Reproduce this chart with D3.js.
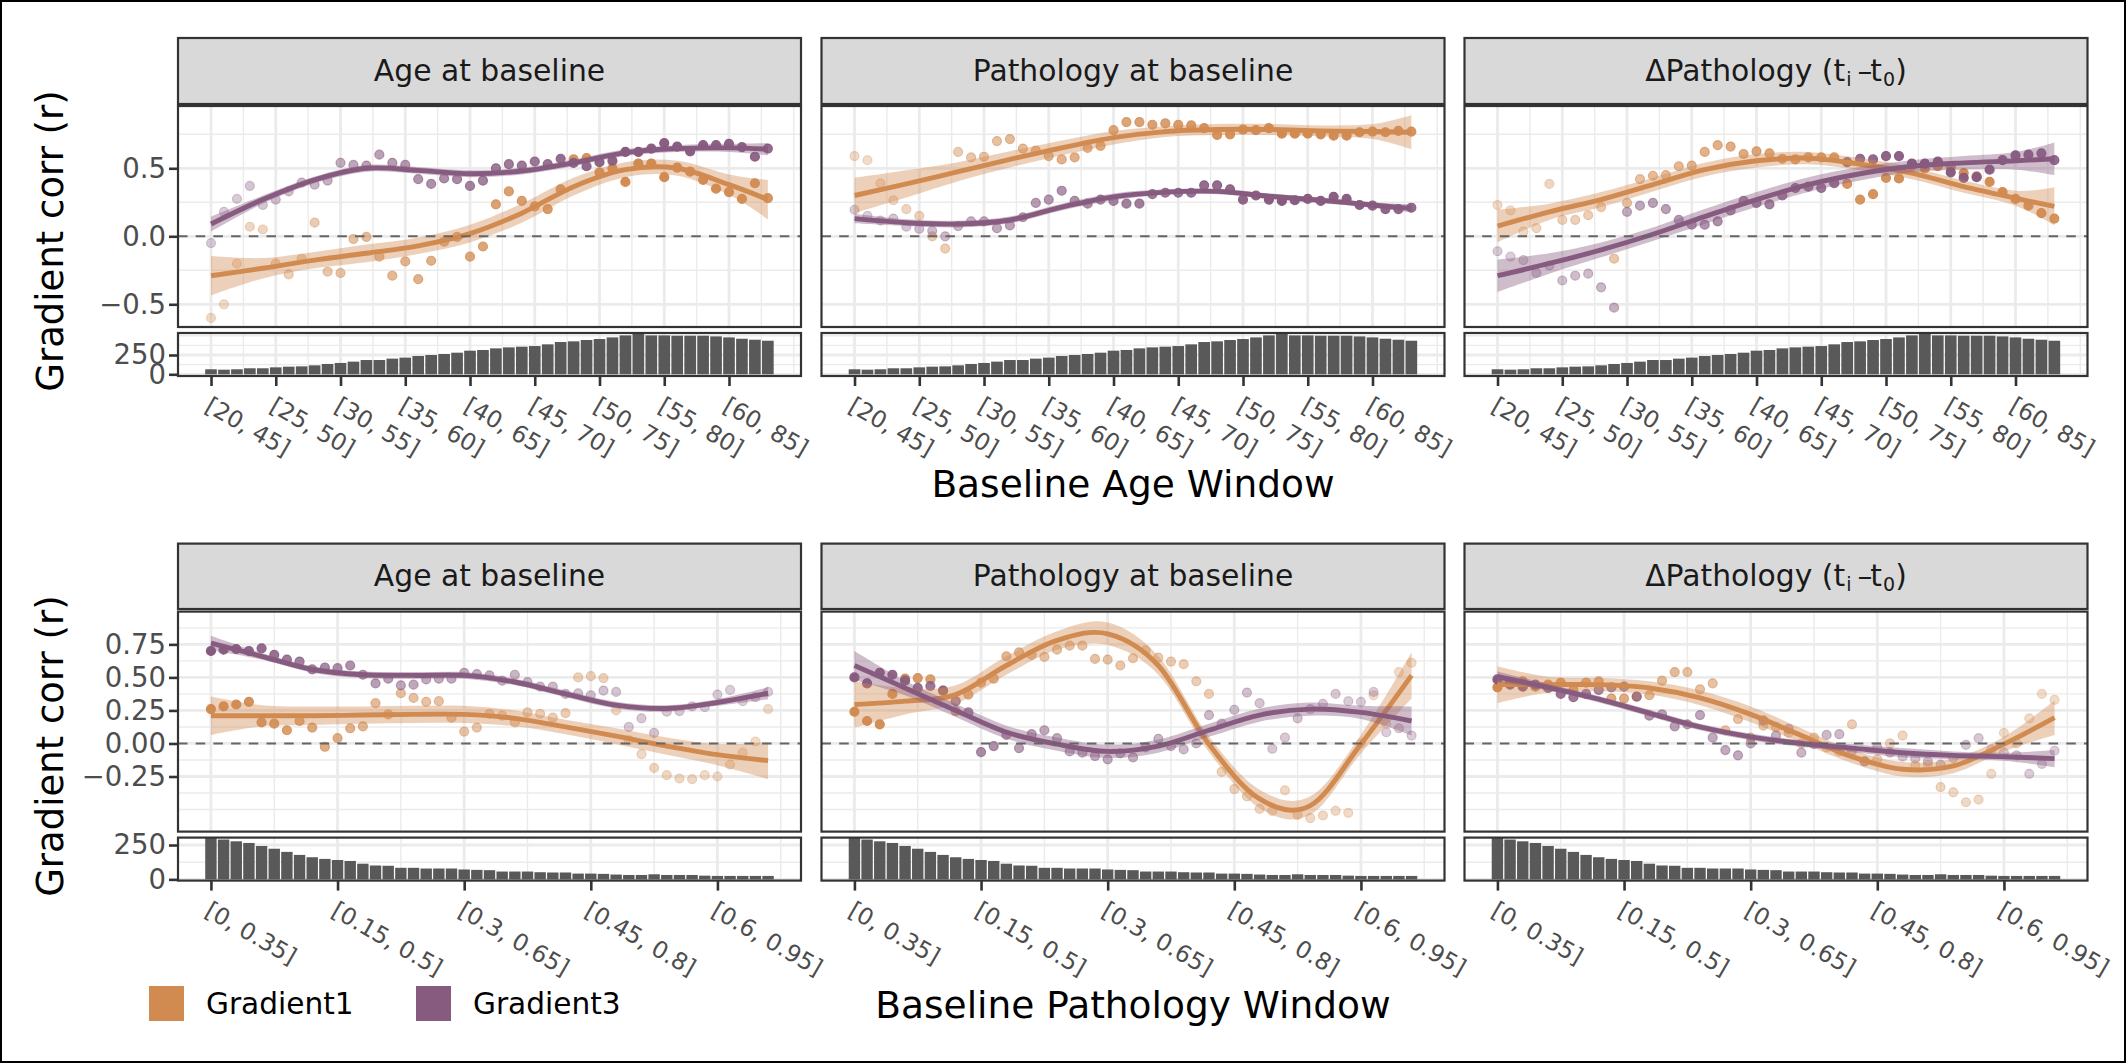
<!DOCTYPE html>
<html>
<head>
<meta charset="utf-8">
<script src="https://cdnjs.cloudflare.com/ajax/libs/d3/7.8.5/d3.min.js"></script>
<style>
  body { margin: 0; background: #fff; font-family: "DejaVu Sans", sans-serif; }
</style>
</head>
<body>
<div id="chart"></div>
<script>
// ---- data ----
const ageWindows = ["[20, 45]", "[25, 50]", "[30, 55]", "[35, 60]", "[40, 65]", "[45, 70]", "[50, 75]", "[55, 80]", "[60, 85]"];
const pathWindows = ["[0, 0.35]", "[0.15, 0.5]", "[0.3, 0.65]", "[0.45, 0.8]", "[0.6, 0.95]"];
const covariates = ["Age at baseline", "Pathology at baseline", "delta"];
const gradients = ["Gradient1", "Gradient3"];

// window sizes
const ageCounts = [65,60,65,78,78,90,99,103,116,134,147,164,185,185,203,216,237,250,263,280,306,315,336,349,358,366,388,418,427,444,457,478,504,522,504,504,500,500,500,491,478,461,448,435];
const pathCounts = [304,290,277,265,243,223,200,178,161,149,141,134,114,101,99,84,84,79,79,79,72,69,67,57,57,57,52,50,50,42,42,40,35,32,32,37,32,32,32,27,25,25,25,25,25];

// knots where the smooth curves were read
const ageKnots = [0,4,8,12,16,20,24,28,32,36,40,43];
const pathKnots = [0,4,8,12,16,20,24,28,32,36,40,44];

// age window, age at baseline
const aaG1 = [-.60,-.50,-.20,.07,.05,-.20,-.28,-.165,.10,-.26,-.27,-.02,-.005,-.15,-.29,-.185,-.315,-.18,-.04,-.005,-.15,-.075,.235,.33,.26,.22,.20,.345,.565,.575,.47,.50,.40,.535,.535,.435,.505,.475,.415,.35,.325,.275,.39,.28];
const aaG3 = [-.05,.18,.275,.37,.23,.27,.33,.395,.38,.41,.54,.525,.52,.60,.54,.525,.42,.385,.425,.42,.37,.41,.50,.53,.52,.55,.53,.57,.54,.515,.545,.555,.62,.62,.645,.685,.66,.625,.67,.67,.68,.655,.585,.645];
const aaG1Fit = [-.29,-.235,-.175,-.125,-.07,.02,.17,.365,.49,.50,.38,.27];
const aaG1Se = [.145,.075,.06,.065,.06,.065,.07,.065,.055,.055,.075,.145];
const aaG3Fit = [.09,.27,.415,.50,.485,.46,.48,.54,.615,.645,.65,.64];
const aaG3Se = [.055,.03,.025,.025,.025,.025,.025,.025,.025,.025,.03,.045];

// age window, pathology at baseline
const apG1 = [.59,.56,.39,.265,.20,.15,0,-.09,.62,.58,.585,.70,.715,.645,.63,.59,.565,.58,.65,.665,.78,.84,.84,.82,.83,.82,.815,.795,.745,.75,.785,.78,.795,.755,.755,.755,.75,.74,.74,.765,.77,.765,.775,.77];
const apG3 = [.195,.15,.115,.13,.07,.055,.04,0,.075,.11,.11,.06,.08,.14,.245,.27,.335,.26,.24,.27,.26,.24,.24,.31,.32,.32,.32,.375,.375,.345,.27,.30,.27,.26,.265,.275,.26,.29,.275,.23,.225,.20,.20,.21];
const apG1Fit = [.30,.385,.475,.565,.65,.725,.77,.785,.785,.775,.77,.765];
const apG1Se = [.13,.10,.07,.06,.055,.05,.04,.04,.04,.04,.055,.125];
const apG3Fit = [.13,.10,.09,.12,.215,.29,.325,.33,.295,.265,.23,.205];
const apG3Se = [.035,.025,.025,.025,.025,.025,.02,.02,.02,.02,.02,.03];

// age window, delta pathology
const adG1 = [.23,.19,.035,.06,.385,.12,.12,.155,.215,-.165,.245,.42,.445,.45,.515,.52,.62,.67,.66,.605,.625,.61,.57,.565,.58,.58,.58,.385,.27,.31,.43,.425,.52,.50,.515,.51,.465,.44,.40,.325,.275,.225,.17,.13];
const adG3 = [-.11,-.15,-.175,-.27,-.215,-.325,-.29,-.275,-.375,-.525,.18,.225,.245,.20,.12,.085,.085,.11,.19,.26,.245,.235,.30,.355,.365,.355,.39,.545,.57,.565,.59,.59,.535,.535,.55,.47,.43,.435,.49,.56,.595,.60,.61,.56];
const adG1Fit = [.075,.18,.27,.38,.49,.555,.575,.53,.465,.365,.28,.22];
const adG1Se = [.12,.06,.055,.05,.05,.05,.045,.045,.045,.045,.055,.14];
const adG3Fit = [-.29,-.20,-.10,.015,.145,.27,.38,.46,.515,.54,.555,.57];
const adG3Se = [.12,.075,.055,.05,.055,.055,.055,.05,.045,.05,.065,.12];

// pathology window, age at baseline
const paG1 = [.26,.28,.295,.315,.16,.15,.10,.17,.12,-.025,.04,.115,.13,.305,.22,.38,.345,.315,.32,.195,.09,.12,.225,.21,.16,.235,.225,.195,.23,.50,.51,.495,.25,.025,-.08,-.185,-.24,-.265,-.27,-.24,-.25,-.16,-.07,.015,.26];
const paG3 = [.70,.71,.715,.70,.72,.67,.635,.62,.56,.575,.57,.59,.52,.455,.49,.44,.445,.485,.49,.49,.535,.525,.515,.475,.52,.465,.43,.43,.375,.38,.365,.40,.39,.125,.19,.08,.24,.245,.28,.275,.37,.405,.32,.35,.39];
const paG1Fit = [.21,.21,.21,.215,.22,.22,.19,.125,.055,-.02,-.085,-.13];
const paG1Se = [.145,.08,.07,.065,.065,.065,.06,.055,.06,.065,.08,.14];
const paG3Fit = [.76,.66,.56,.52,.515,.515,.465,.375,.29,.265,.31,.38];
const paG3Se = [.055,.025,.025,.025,.025,.025,.025,.025,.025,.025,.025,.045];

// pathology window, pathology at baseline
const ppG1 = [.24,.17,.145,.375,.49,.495,.485,.40,.245,.37,.46,.49,.66,.69,.67,.655,.71,.74,.74,.64,.635,.59,.645,.705,.65,.62,.60,.47,.375,-.215,-.345,-.40,-.495,-.51,-.355,-.54,-.565,-.545,-.51,-.525,0,.365,.15,.54,.61];
const ppG3 = [.50,.455,.535,.52,.475,.42,.435,.40,.32,.235,-.065,-.02,.065,-.035,.07,.10,.04,-.06,-.07,-.095,-.12,-.075,-.105,-.03,.035,-.02,-.045,0,.215,.15,.255,.385,.305,-.04,.045,.19,.26,.30,.375,.32,.315,.39,.085,.115,.06];
const ppG1Fit = [.295,.32,.37,.59,.78,.83,.59,-.005,-.42,-.47,-.005,.515];
const ppG1Se = [.175,.10,.07,.07,.07,.085,.07,.06,.07,.07,.07,.175];
const ppG3Fit = [.59,.42,.25,.085,-.005,-.06,-.02,.10,.215,.26,.235,.17];
const ppG3Se = [.11,.055,.05,.05,.05,.05,.05,.05,.05,.05,.05,.11];

// pathology window, delta pathology
const pdG1 = [.425,.46,.47,.43,.445,.46,.405,.46,.47,.34,.34,.355,.365,.475,.54,.54,.41,.455,.10,.185,.045,.135,.125,.08,0,.045,-.03,-.06,.145,-.135,-.12,0,.06,-.165,-.16,-.33,-.37,-.445,-.425,-.23,.08,0,.19,.375,.33];
const pdG3 = [.485,.445,.43,.445,.42,.375,.35,.375,.405,.425,.43,.355,.21,.22,.13,.145,.215,.045,-.05,-.09,0,.175,.06,.11,-.07,-.005,.065,.07,-.055,-.135,-.03,-.07,-.10,-.115,-.135,-.16,-.11,-.01,.04,-.045,-.07,-.09,-.23,-.155,-.055];
const pdG1Fit = [.445,.445,.445,.42,.345,.22,.06,-.10,-.195,-.17,-.005,.195];
const pdG1Se = [.14,.06,.05,.05,.055,.06,.055,.05,.055,.055,.055,.13];
const pdG3Fit = [.505,.425,.335,.23,.125,.05,0,-.035,-.07,-.09,-.10,-.115];
const pdG3Se = [.04,.025,.025,.025,.025,.025,.025,.03,.035,.03,.03,.065];

// ---- layout ----
const WIDTH = 2126, HEIGHT = 1063;
const panelW = 623;
const colLeft = [178, 821.5, 1464.5];
const colors = { Gradient1: "#d18a50", Gradient3: "#875b80" };
const gridColor = "#ebebeb", borderColor = "#333333";

const rows = [
  {
    stripTop: 38, stripH: 66, top: 106, mainH: 221, histTop: 333, histH: 43,
    xDomain: [-2.55, 45.56], yDomain: [-.667, .958],
    xTicks: [0,5,10,15,20,25,30,35,40], xLabels: ageWindows,
    xMinor: [2.5,7.5,12.5,17.5,22.5,27.5,32.5,37.5,42.5,45],
    yTicks: [-.5,0,.5], yMinor: [-.25,.25,.75], yFormat: d3.format(".1f"),
    histDomain: [-22, 535], histMinor: [125,375,500],
    counts: ageCounts, knots: ageKnots, alphaDomain: [60, 522],
    xTitle: "Baseline Age Window", xTitleY: 497,
    series: [
      { g1: aaG1, g3: aaG3, g1Fit: aaG1Fit, g1Se: aaG1Se, g3Fit: aaG3Fit, g3Se: aaG3Se },
      { g1: apG1, g3: apG3, g1Fit: apG1Fit, g1Se: apG1Se, g3Fit: apG3Fit, g3Se: apG3Se },
      { g1: adG1, g3: adG3, g1Fit: adG1Fit, g1Se: adG1Se, g3Fit: adG3Fit, g3Se: adG3Se }
    ]
  },
  {
    stripTop: 543.6, stripH: 65.4, top: 611.6, mainH: 220, histTop: 837.6, histH: 43,
    xDomain: [-2.6, 46.6], yDomain: [-.667, .998],
    xTicks: [0,10,20,30,40], xLabels: pathWindows,
    xMinor: [5,15,25,35,45],
    yTicks: [-.25,0,.25,.5,.75], yMinor: [-.5,-.375,-.125,.125,.375,.625,.875], yFormat: d3.format(".2f"),
    histDomain: [-9, 304], histMinor: [125],
    counts: pathCounts, knots: pathKnots, alphaDomain: [25, 304],
    xTitle: "Baseline Pathology Window", xTitleY: 1018,
    series: [
      { g1: paG1, g3: paG3, g1Fit: paG1Fit, g1Se: paG1Se, g3Fit: paG3Fit, g3Se: paG3Se },
      { g1: ppG1, g3: ppG3, g1Fit: ppG1Fit, g1Se: ppG1Se, g3Fit: ppG3Fit, g3Se: ppG3Se },
      { g1: pdG1, g3: pdG3, g1Fit: pdG1Fit, g1Se: pdG1Se, g3Fit: pdG3Fit, g3Se: pdG3Se }
    ]
  }
];

const svg = d3.select("#chart").append("svg")
  .attr("width", WIDTH).attr("height", HEIGHT)
  .style("display", "block");

svg.append("rect").attr("x", 1).attr("y", 1).attr("width", WIDTH - 2).attr("height", HEIGHT - 2)
  .attr("fill", "#fff").attr("stroke", "#000").attr("stroke-width", 2);

const defs = svg.append("defs");

rows.forEach((row, r) => {
  covariates.forEach((cov, c) => drawPanel(row, r, c, cov));

  svg.append("text")
    .attr("transform", `translate(63,${row.top + (row.histTop + row.histH - row.top) / 2}) rotate(-90)`)
    .attr("text-anchor", "middle")
    .style("font-size", "37px")
    .text("Gradient corr (r)");

  svg.append("text")
    .attr("x", colLeft[1] + panelW / 2).attr("y", row.xTitleY)
    .attr("text-anchor", "middle")
    .style("font-size", "37.5px")
    .text(row.xTitle);
});

drawLegend();

function drawPanel(row, r, c, cov) {
  const left = colLeft[c];
  const s = row.series[c];

  // strip
  svg.append("rect")
    .attr("x", left).attr("y", row.stripTop).attr("width", panelW).attr("height", row.stripH)
    .attr("fill", "#d9d9d9").attr("stroke", borderColor).attr("stroke-width", 2.2);
  stripLabel(cov, left + panelW / 2, row.stripTop + row.stripH / 2 + 10);

  const x = d3.scaleLinear().domain(row.xDomain).range([0, panelW]);
  const y = d3.scaleLinear().domain(row.yDomain).range([row.mainH, 0]);
  const h = d3.scaleLinear().domain(row.histDomain).range([row.histH, 0]);
  const alpha = d3.scaleSqrt().domain(row.alphaDomain).range([.3, 1]).clamp(true);

  const clipId = `clip-${r}-${c}`;
  defs.append("clipPath").attr("id", clipId)
    .append("rect").attr("width", panelW).attr("height", row.mainH);

  // main panel
  const g = svg.append("g").attr("transform", `translate(${left},${row.top})`);
  drawGrid(g, x, y, row, row.yTicks, row.yMinor, row.mainH);

  const plot = g.append("g").attr("clip-path", `url(#${clipId})`);
  gradients.forEach((name, i) => {
    const pts = i === 0 ? s.g1 : s.g3;
    plot.append("g").selectAll("circle")
      .data(pts)
      .join("circle")
      .attr("cx", (d, k) => x(k))
      .attr("cy", d => y(d))
      .attr("r", 4.5)
      .attr("fill", colors[name])
      .attr("fill-opacity", (d, k) => alpha(row.counts[k]))
      .attr("stroke", colors[name])
      .attr("stroke-opacity", (d, k) => alpha(row.counts[k]))
      .attr("stroke-width", 1.2);
  });
  gradients.forEach((name, i) => {
    const fit = i === 0 ? s.g1Fit : s.g3Fit;
    const se = i === 0 ? s.g1Se : s.g3Se;
    const curve = d3.curveCatmullRom.alpha(0);
    const area = d3.area()
      .x((d, k) => x(row.knots[k]))
      .y0((d, k) => y(d - se[k]))
      .y1((d, k) => y(d + se[k]))
      .curve(curve);
    const line = d3.line()
      .x((d, k) => x(row.knots[k]))
      .y(d => y(d))
      .curve(curve);
    plot.append("path").attr("d", area(fit)).attr("fill", colors[name]).attr("fill-opacity", .4);
    plot.append("path").attr("d", line(fit)).attr("fill", "none")
      .attr("stroke", colors[name]).attr("stroke-width", 4.9);
  });

  plot.append("line")
    .attr("x1", 0).attr("x2", panelW).attr("y1", y(0)).attr("y2", y(0))
    .attr("stroke", "#666666").attr("stroke-width", 2).attr("stroke-dasharray", "9.5,8.2");

  g.append("rect").attr("width", panelW).attr("height", row.mainH)
    .attr("fill", "none").attr("stroke", borderColor).attr("stroke-width", 2.2);

  if (c === 0) {
    const yAxis = d3.axisLeft(y).tickValues(row.yTicks).tickFormat(row.yFormat).tickSizeOuter(0).tickSize(9);
    styleAxis(g.append("g").call(yAxis));
  }

  // histogram
  const clipHist = `cliph-${r}-${c}`;
  defs.append("clipPath").attr("id", clipHist)
    .append("rect").attr("width", panelW).attr("height", row.histH);

  const gh = svg.append("g").attr("transform", `translate(${left},${row.histTop})`);
  drawGrid(gh, x, h, row, [0, 250], row.histMinor, row.histH);

  const unit = x(1) - x(0);
  gh.append("g").attr("clip-path", `url(#${clipHist})`)
    .selectAll("rect")
    .data(row.counts)
    .join("rect")
    .attr("x", (d, k) => x(k) - unit * .45)
    .attr("width", unit * .9)
    .attr("y", d => h(d))
    .attr("height", d => h(0) - h(d))
    .attr("fill", "#595959");

  gh.append("rect").attr("width", panelW).attr("height", row.histH)
    .attr("fill", "none").attr("stroke", borderColor).attr("stroke-width", 2.2);

  if (c === 0) {
    const hAxis = d3.axisLeft(h).tickValues([0, 250]).tickFormat(d3.format("d")).tickSizeOuter(0).tickSize(9);
    styleAxis(gh.append("g").call(hAxis));
  }

  const xAxis = d3.axisBottom(x).tickValues(row.xTicks)
    .tickFormat((d, k) => row.xLabels[k]).tickSizeOuter(0).tickSize(10);
  const gx = gh.append("g").attr("transform", `translate(0,${row.histH})`).call(xAxis);
  styleAxis(gx);
  gx.selectAll("text")
    .attr("text-anchor", "start")
    .attr("dy", null)
    .attr("y", null)
    .style("font-size", "23.5px")
    .attr("transform", "translate(-8,34.5) rotate(30)");
}

function drawGrid(g, x, y, row, major, minor, height) {
  const grid = g.append("g");
  const vline = (v, w) => grid.append("line")
    .attr("x1", x(v)).attr("x2", x(v)).attr("y1", 0).attr("y2", height)
    .attr("stroke", gridColor).attr("stroke-width", w);
  const hline = (v, w) => grid.append("line")
    .attr("x1", 0).attr("x2", panelW).attr("y1", y(v)).attr("y2", y(v))
    .attr("stroke", gridColor).attr("stroke-width", w);
  minor.forEach(v => hline(v, 1.4));
  row.xMinor.forEach(v => vline(v, 1.4));
  major.forEach(v => hline(v, 2.8));
  row.xTicks.forEach(v => vline(v, 2.8));
}

function styleAxis(a) {
  a.select(".domain").remove();
  a.selectAll("line").attr("stroke", borderColor).attr("stroke-width", 2.6);
  a.selectAll("text")
    .attr("fill", "#4d4d4d")
    .style("font-size", "27.5px")
    .style("font-family", "'DejaVu Sans', sans-serif");
}

function stripLabel(cov, cx, cy) {
  const t = svg.append("text")
    .attr("x", cx).attr("y", cy)
    .attr("text-anchor", "middle")
    .attr("fill", "#1a1a1a")
    .style("font-size", "29.8px");
  if (cov !== "delta") {
    t.text(cov);
    return;
  }
  t.append("tspan").text("ΔPathology (t");
  t.append("tspan").attr("dy", 4.5).attr("dx", 1).style("font-size", "19px").text("i");
  t.append("tspan").attr("dy", -4.5).attr("dx", 6).text("–");
  t.append("tspan").attr("dx", -2).text("t");
  t.append("tspan").attr("dy", 4.5).attr("dx", 1).style("font-size", "19px").text("0");
  t.append("tspan").attr("dy", -4.5).text(")");
}

function drawLegend() {
  const legendX = [149, 416];
  gradients.forEach((name, i) => {
    svg.append("rect")
      .attr("x", legendX[i]).attr("y", 986).attr("width", 35).attr("height", 35)
      .attr("fill", colors[name]);
    svg.append("text")
      .attr("x", legendX[i] + 57).attr("y", 1014)
      .style("font-size", "29.6px")
      .text(name);
  });
}
</script>
</body>
</html>
